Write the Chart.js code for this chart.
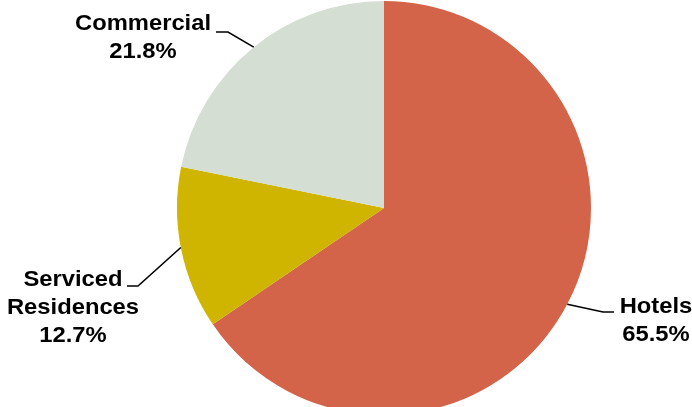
<!DOCTYPE html>
<html>
<head>
<meta charset="utf-8">
<script src="https://cdn.jsdelivr.net/npm/chart.js@4"></script>
<style>
  html, body { margin: 0; padding: 0; background: #fff; }
  #wrap { width: 692px; height: 407px; overflow: hidden; position: relative; }
  canvas { display: block; }
</style>
</head>
<body>
<div id="wrap">
  <canvas id="mixChart" width="692" height="418"></canvas>
</div>
<script>
// Share of floor area by use
const categories = ['Hotels', 'Serviced\nResidences', 'Commercial'];
const shares = [65.5, 12.7, 21.8];
const sliceColors = ['#D3644A', '#CFB400', '#D4DED2'];

// where each callout sits and where its leader line meets the pie
// angle = degrees clockwise from 12 o'clock
const callouts = [
  { x: 656, y: 313, lineY: 312, from: 614, elbow: 603, angle: 117.7 },
  { x: 73,  y: 286, lineY: 286, from: 127, elbow: 138, angle: 259 },
  { x: 143, y: 30,  lineY: 32,  from: 216, elbow: 228, angle: 321 }
];

const calloutPlugin = {
  id: 'callouts',
  afterDatasetsDraw(chart) {
    const ctx = chart.ctx;
    const meta = chart.getDatasetMeta(0);
    ctx.save();
    meta.data.forEach((arc, i) => {
      const c = callouts[i];
      const a = (c.angle - 90) * Math.PI / 180;
      const px = arc.x + arc.outerRadius * Math.cos(a);
      const py = arc.y + arc.outerRadius * Math.sin(a);

      ctx.strokeStyle = '#000';
      ctx.lineWidth = 1.6;
      ctx.beginPath();
      ctx.moveTo(c.from, c.lineY);
      ctx.lineTo(c.elbow, c.lineY);
      ctx.lineTo(px, py);
      ctx.stroke();

      // labels are set a little wide, so stretch horizontally
      const lines = categories[i].split('\n').concat(shares[i].toFixed(1) + '%');
      ctx.save();
      ctx.translate(c.x, c.y);
      ctx.scale(1.08, 1);
      ctx.fillStyle = '#000';
      ctx.font = 'bold 22px "Liberation Sans", Arial, sans-serif';
      ctx.textAlign = 'center';
      ctx.textBaseline = 'alphabetic';
      lines.forEach((t, k) => ctx.fillText(t, 0, k * 28));
      ctx.restore();
    });
    ctx.restore();
  }
};

new Chart(document.getElementById('mixChart'), {
  type: 'pie',
  data: {
    labels: categories,
    datasets: [{
      data: shares,
      backgroundColor: sliceColors,
      borderWidth: 0
    }]
  },
  options: {
    responsive: false,
    animation: false,
    layout: { padding: { top: 1, left: 177, right: 101, bottom: 3 } },
    plugins: {
      legend: { display: false },
      tooltip: { enabled: false }
    }
  },
  plugins: [calloutPlugin]
});
</script>
</body>
</html>
